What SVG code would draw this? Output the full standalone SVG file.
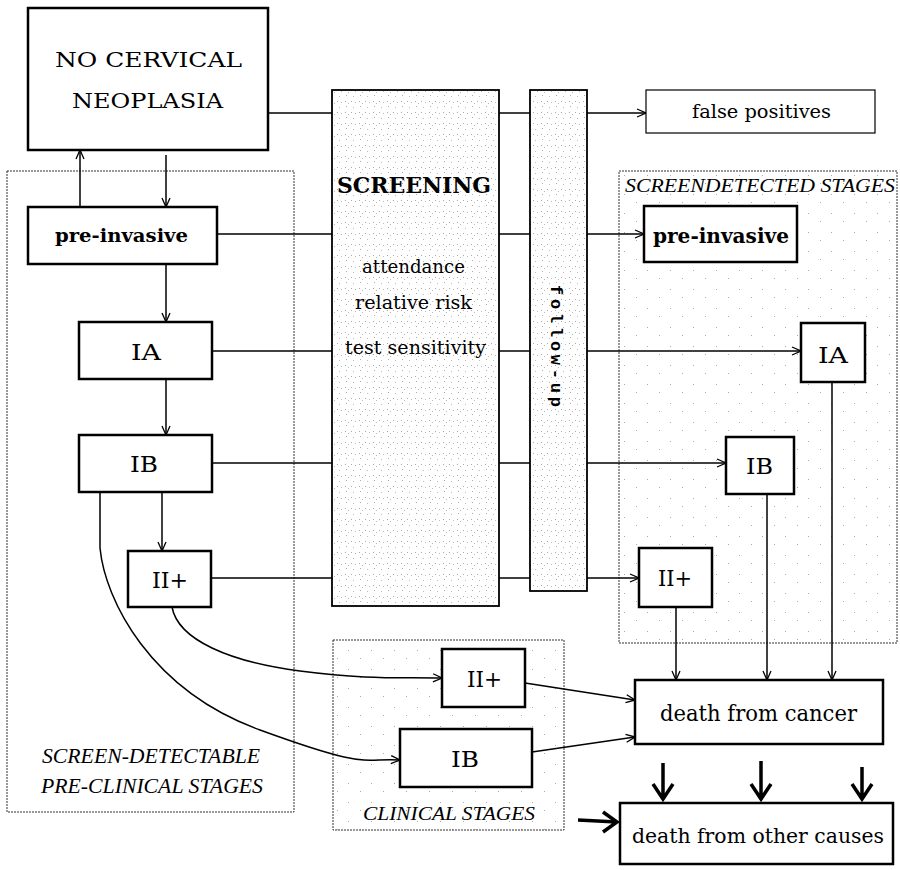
<svg xmlns="http://www.w3.org/2000/svg" width="900" height="870" viewBox="0 0 900 870">
<style>
.box{fill:#fff;stroke:#000;stroke-width:2.5}
.tall{stroke:#000;stroke-width:1.8}
.cont{fill:none;stroke:#333;stroke-width:1;stroke-dasharray:2 1}
.ln{fill:none;stroke:#000;stroke-width:1.5}
.thick{fill:none;stroke:#000;stroke-width:3.5}
.t{font-family:"DejaVu Serif","Liberation Serif",serif;fill:#000;text-anchor:start}
.b{font-weight:bold}
.it{font-family:"Liberation Serif","DejaVu Serif",serif;font-style:italic;fill:#000}
.mono{font-family:"Liberation Mono","DejaVu Sans Mono",monospace;fill:#000;font-weight:bold}
</style>
<defs>
<marker id="ah" viewBox="0 0 10 10" refX="10" refY="5" markerWidth="10" markerHeight="10" markerUnits="userSpaceOnUse" orient="auto">
<polyline points="1,1 10,5 1,9" fill="none" stroke="#000" stroke-width="1.3"/>
</marker>
<pattern id="speck" width="14" height="11" patternUnits="userSpaceOnUse">
<rect x="1" y="2" width="1" height="1" fill="#aaa"/>
<rect x="5" y="3" width="1" height="1" fill="#bbb"/>
<rect x="9" y="2" width="1" height="1" fill="#aaa"/>
<rect x="12" y="4" width="1" height="1" fill="#bbb"/>
<rect x="3" y="8" width="1" height="1" fill="#bbb"/>
<rect x="10" y="7" width="1" height="1" fill="#aaa"/>
</pattern>
<pattern id="sparse" width="23" height="19" patternUnits="userSpaceOnUse">
<rect x="3" y="4" width="1" height="1" fill="#aaa"/>
<rect x="15" y="12" width="1" height="1" fill="#aaa"/>
</pattern>
</defs>

<g id="containers">
<rect class="cont" x="7" y="171" width="287" height="641"/>
<rect x="619" y="171" width="278" height="472" fill="url(#sparse)" stroke="#333" stroke-width="1" stroke-dasharray="2 1"/>
<rect x="333" y="640" width="231" height="190" fill="url(#sparse)" stroke="#333" stroke-width="1" stroke-dasharray="2 1"/>
<text class="it" x="42" y="763" font-size="20" textLength="218" lengthAdjust="spacingAndGlyphs">SCREEN-DETECTABLE</text>
<text class="it" x="41" y="793" font-size="20" textLength="222" lengthAdjust="spacingAndGlyphs">PRE-CLINICAL STAGES</text>
<text class="it" x="363" y="820" font-size="18" textLength="172" lengthAdjust="spacingAndGlyphs">CLINICAL STAGES</text>
<text class="it" x="625" y="192" font-size="19" textLength="270" lengthAdjust="spacingAndGlyphs">SCREENDETECTED STAGES</text>
</g>

<g id="connectors">
<line class="ln" x1="268" y1="113" x2="332" y2="113"/>
<line class="ln" x1="217" y1="234" x2="332" y2="234"/>
<line class="ln" x1="212" y1="351" x2="332" y2="351"/>
<line class="ln" x1="212" y1="463" x2="332" y2="463"/>
<line class="ln" x1="211" y1="578" x2="332" y2="578"/>
<line class="ln" x1="499" y1="113" x2="530" y2="113"/>
<line class="ln" x1="499" y1="234" x2="530" y2="234"/>
<line class="ln" x1="499" y1="351" x2="530" y2="351"/>
<line class="ln" x1="499" y1="463" x2="530" y2="463"/>
<line class="ln" x1="499" y1="578" x2="530" y2="578"/>
<line class="ln" x1="587" y1="113" x2="646" y2="113" marker-end="url(#ah)"/>
<line class="ln" x1="587" y1="234" x2="644" y2="234" marker-end="url(#ah)"/>
<line class="ln" x1="587" y1="351" x2="801" y2="351" marker-end="url(#ah)"/>
<line class="ln" x1="587" y1="463" x2="726" y2="463" marker-end="url(#ah)"/>
<line class="ln" x1="587" y1="578" x2="639" y2="578" marker-end="url(#ah)"/>
<line class="ln" x1="80" y1="207" x2="80" y2="150" marker-end="url(#ah)"/>
<line class="ln" x1="166" y1="155" x2="166" y2="207" marker-end="url(#ah)"/>
<line class="ln" x1="166" y1="264" x2="166" y2="322" marker-end="url(#ah)"/>
<line class="ln" x1="166" y1="379" x2="166" y2="435" marker-end="url(#ah)"/>
<line class="ln" x1="162" y1="492" x2="162" y2="551" marker-end="url(#ah)"/>
<path class="ln" d="M172,607 C178,640 230,662 300,671 S400,677 442,678" marker-end="url(#ah)"/>
<path class="ln" d="M100,492 L100,548 C105,600 150,690 260,730 S360,758 400,760" marker-end="url(#ah)"/>
<line class="ln" x1="525" y1="683" x2="635" y2="700" marker-end="url(#ah)"/>
<line class="ln" x1="532" y1="752" x2="635" y2="737" marker-end="url(#ah)"/>
<line class="ln" x1="676" y1="607" x2="676" y2="680" marker-end="url(#ah)"/>
<line class="ln" x1="767" y1="494" x2="767" y2="680" marker-end="url(#ah)"/>
<line class="ln" x1="832" y1="382" x2="832" y2="680" marker-end="url(#ah)"/>
<g class="thick">
<path d="M663,763 L663,799 M653,784 L663,799 L673,784"/>
<path d="M761,761 L761,799 M751,784 L761,799 L771,784"/>
<path d="M862,767 L862,799 M852,784 L862,799 L872,784"/>
<path d="M578,820 L617,822 M603,812 L617,822 L603,832"/>
</g>
</g>

<g id="screening">
<rect x="332" y="90" width="167" height="516" fill="url(#speck)" class="tall"/>
<text class="t b" x="337" y="193" font-size="22" textLength="154" lengthAdjust="spacingAndGlyphs">SCREENING</text>
<text class="t" x="362" y="273" font-size="19" textLength="103" lengthAdjust="spacingAndGlyphs">attendance</text>
<text class="t" x="355" y="309" font-size="19" textLength="117" lengthAdjust="spacingAndGlyphs">relative risk</text>
<text class="t" x="345" y="354" font-size="19" textLength="141" lengthAdjust="spacingAndGlyphs">test sensitivity</text>
</g>

<g id="follow-up">
<rect x="530" y="90" width="57" height="501" fill="url(#speck)" class="tall"/>
<text class="mono" font-size="17" transform="translate(551,285) rotate(90)" textLength="122">follow-up</text>
</g>

<g id="no-neoplasia">
<rect class="box" x="28" y="8" width="240" height="142"/>
<text class="t" x="55" y="67" font-size="21" textLength="187" lengthAdjust="spacingAndGlyphs">NO CERVICAL</text>
<text class="t" x="72" y="108" font-size="21" textLength="151" lengthAdjust="spacingAndGlyphs">NEOPLASIA</text>
</g>

<g id="pre-invasive">
<rect class="box" x="28" y="207" width="189" height="57"/>
<text class="t b" x="55" y="242" font-size="19" textLength="133" lengthAdjust="spacingAndGlyphs">pre-invasive</text>
</g>
<g id="ia">
<rect class="box" x="79" y="322" width="133" height="57"/>
<text class="t" x="131" y="360" font-size="23" textLength="30" lengthAdjust="spacingAndGlyphs">IA</text>
</g>
<g id="ib">
<rect class="box" x="79" y="435" width="133" height="57"/>
<text class="t" x="130" y="472" font-size="23" textLength="28" lengthAdjust="spacingAndGlyphs">IB</text>
</g>
<g id="ii-plus">
<rect class="box" x="128" y="551" width="83" height="56"/>
<text class="t" x="152" y="588" font-size="23" textLength="36" lengthAdjust="spacingAndGlyphs">II+</text>
</g>

<g id="false-positives">
<rect x="646" y="90" width="229" height="43" fill="#fff" stroke="#000" stroke-width="1.2"/>
<text class="t" x="692" y="118" font-size="18" textLength="139" lengthAdjust="spacingAndGlyphs">false positives</text>
</g>
<g id="sd-pre-invasive">
<rect class="box" x="644" y="206" width="153" height="56"/>
<text class="t b" x="653" y="243" font-size="21" textLength="136" lengthAdjust="spacingAndGlyphs">pre-invasive</text>
</g>
<g id="sd-ia">
<rect class="box" x="801" y="323" width="64" height="59"/>
<text class="t" x="818" y="363" font-size="23" textLength="30" lengthAdjust="spacingAndGlyphs">IA</text>
</g>
<g id="sd-ib">
<rect class="box" x="726" y="437" width="68" height="57"/>
<text class="t" x="746" y="474" font-size="23" textLength="27" lengthAdjust="spacingAndGlyphs">IB</text>
</g>
<g id="sd-ii-plus">
<rect class="box" x="639" y="548" width="73" height="59"/>
<text class="t" x="658" y="586" font-size="23" textLength="34" lengthAdjust="spacingAndGlyphs">II+</text>
</g>

<g id="cl-ii-plus">
<rect class="box" x="442" y="649" width="83" height="58"/>
<text class="t" x="467" y="687" font-size="23" textLength="35" lengthAdjust="spacingAndGlyphs">II+</text>
</g>
<g id="cl-ib">
<rect class="box" x="400" y="729" width="132" height="58"/>
<text class="t" x="451" y="767" font-size="23" textLength="28" lengthAdjust="spacingAndGlyphs">IB</text>
</g>

<g id="death-cancer">
<rect class="box" x="635" y="680" width="248" height="64"/>
<text class="t" x="660" y="721" font-size="22" textLength="197" lengthAdjust="spacingAndGlyphs">death from cancer</text>
</g>
<g id="death-other">
<rect class="box" x="620" y="803" width="273" height="61"/>
<text class="t" x="632" y="843" font-size="21" textLength="252" lengthAdjust="spacingAndGlyphs">death from other causes</text>
</g>
</svg>
